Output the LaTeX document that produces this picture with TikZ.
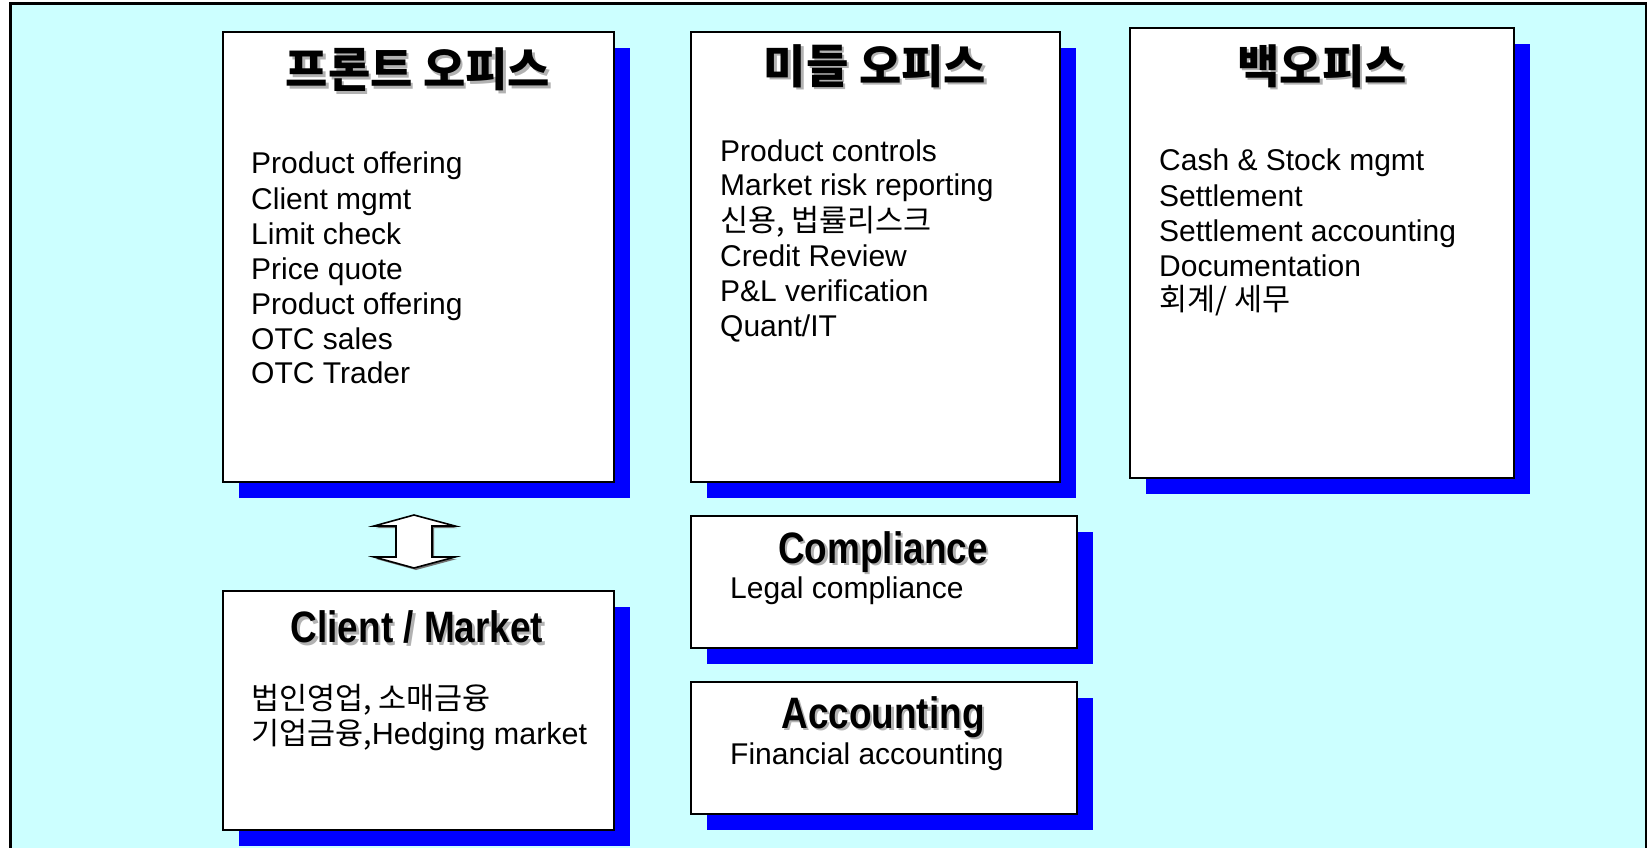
\documentclass[tikz,border=0pt]{standalone}
\usepackage{fontspec}
\setmainfont{Liberation Sans}
\newfontfamily\kr{Noto Sans CJK KR}
\newfontfamily\head[FakeStretch=0.84]{Liberation Sans}
\usetikzlibrary{shadows}
\definecolor{bgcyan}{HTML}{CCFFFF}
\definecolor{shblue}{HTML}{0000FF}
\tikzset{
  panel/.style={draw=black, line width=1.6pt, fill=white, anchor=north west, inner sep=0pt,
    general shadow={fill=shblue, shadow xshift=16pt, shadow yshift=-16pt}},
  body/.style={anchor=west, inner sep=0pt, font=\fontsize{30}{35}\selectfont, text height=24pt, text depth=4pt},
  krbody/.style={body, font=\kr\fontsize{30.5}{35}\selectfont},
  krtitle/.style={inner sep=0pt, font=\kr\bfseries\fontsize{46}{52}\selectfont},
  entitle/.style={inner sep=0pt, font=\head\bfseries\fontsize{44}{50}\selectfont},
  tshadow/.style={text=black!30},
}
\begin{document}
\begin{tikzpicture}[x=1pt,y=-1pt]
\useasboundingbox (0,0) rectangle (1647,848);
\fill[white] (0,0) rectangle (1647,848);
\draw[line width=3pt, fill=bgcyan] (10,4) rectangle (1646,900);

% panels
\node[panel, minimum width=391pt, minimum height=450pt] (fo) at (222,31) {};
\node[panel, minimum width=369pt, minimum height=450pt] (mo) at (690,31) {};
\node[panel, minimum width=384pt, minimum height=450pt] (bo) at (1129,27) {};
\node[panel, minimum width=391pt, minimum height=239pt] (cm) at (222,590) {};
\node[panel, minimum width=386pt, minimum height=132pt] (cp) at (690,515) {};
\node[panel, minimum width=386pt, minimum height=132pt] (ac) at (690,681) {};

% titles
\node[krtitle, tshadow] (fot-s) at (420.5,72.5) {프론트 오피스};
\node[krtitle] (fot) at (418,70) {프론트 오피스};
\node[krtitle, tshadow] (mot-s) at (877.5,68.5) {미들 오피스};
\node[krtitle] (mot) at (875,66) {미들 오피스};
\node[krtitle, tshadow] (bot-s) at (1324.5,68.5) {백오피스};
\node[krtitle] (bot) at (1322,66) {백오피스};
\node[entitle, tshadow] (cmt-s) at (419.5,629.5) {Client / Market};
\node[entitle] (cmt) at (417,627) {Client / Market};
\node[entitle, tshadow] (cpt-s) at (885.5,554.5) {Compliance};
\node[entitle] (cpt) at (883,552) {Compliance};
\node[entitle, tshadow] (act-s) at (885.5,719.5) {Accounting};
\node[entitle] (act) at (883,717) {Accounting};

% front office body
\node[body] (fo1) at (251,164) {Product offering};
\node[body] (fo2) at (251,199) {Client mgmt};
\node[body] (fo3) at (251,234) {Limit check};
\node[body] (fo4) at (251,269) {Price quote};
\node[body] (fo5) at (251,304) {Product offering};
\node[body] (fo6) at (251,339) {OTC sales};
\node[body] (fo7) at (251,373) {OTC Trader};

% middle office body
\node[body] (mo1) at (720,151) {Product controls};
\node[body] (mo2) at (720,186) {Market risk reporting};
\node[krbody] (mo3) at (720,221) {신용, 법률리스크};
\node[body] (mo4) at (720,256) {Credit Review};
\node[body] (mo5) at (720,291) {P\&L verification};
\node[body] (mo6) at (720,326) {Quant/IT};

% back office body
\node[body] (bo1) at (1159,161) {Cash \& Stock mgmt};
\node[body] (bo2) at (1159,196) {Settlement};
\node[body] (bo3) at (1159,231) {Settlement accounting};
\node[body] (bo4) at (1159,266) {Documentation};
\node[krbody] (bo5) at (1159,300) {회계/ 세무};

% client / market body
\node[krbody] (cm1) at (251,699) {법인영업, 소매금융};
\node[krbody] (cm2) at (251,734) {기업금융,{\fontspec{Liberation Sans}Hedging market}};

% compliance / accounting body
\node[body] (cp1) at (730,588) {Legal compliance};
\node[body] (ac1) at (730,754) {Financial accounting};

% double block arrow
\fill[black!55] (416,517) -- (457,528) -- (434,528) -- (434,559) -- (457,559) -- (416,570)
  -- (376,559) -- (398,559) -- (398,528) -- (376,528) -- cycle;
\draw[line width=1.6pt, fill=white, line join=miter] (414,515) -- (455,526) -- (432,526) -- (432,557) -- (455,557) -- (414,568)
  -- (374,557) -- (396,557) -- (396,526) -- (374,526) -- cycle;
\end{tikzpicture}
\end{document}
